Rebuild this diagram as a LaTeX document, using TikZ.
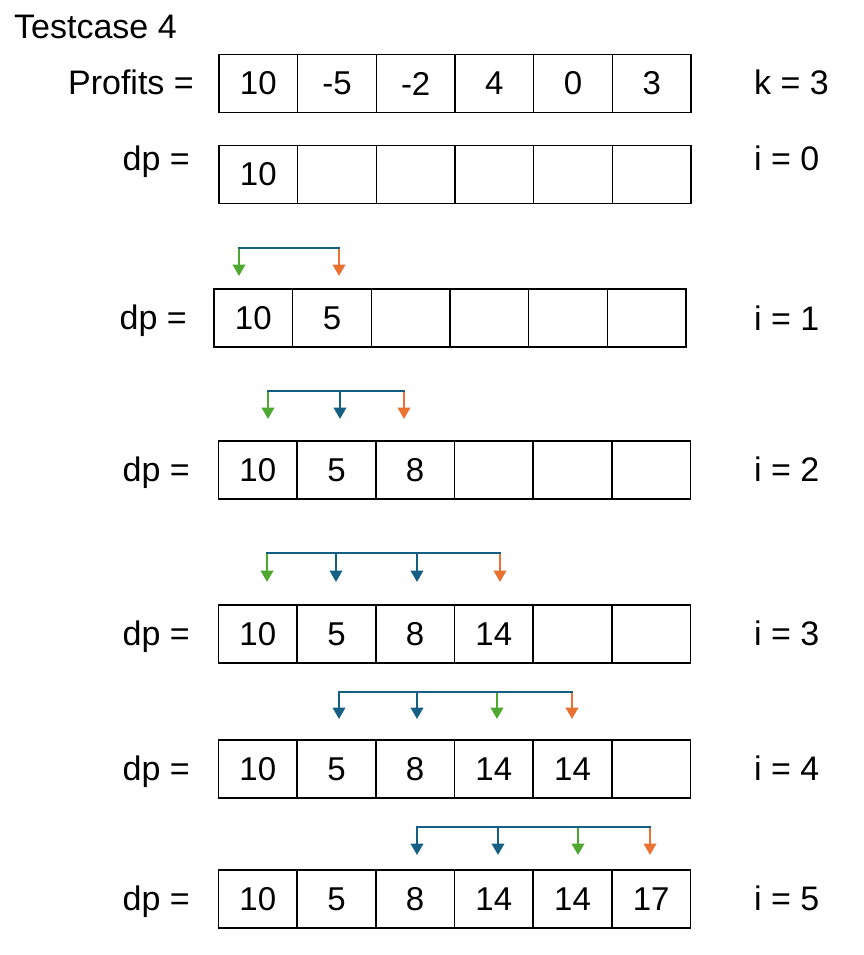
\documentclass[tikz,border=0pt]{standalone}
\usepackage{fontspec}
\setmainfont{Liberation Sans}
\usetikzlibrary{arrows.meta}
\definecolor{ablue}{HTML}{156082}
\definecolor{aorange}{HTML}{E97132}
\definecolor{agreen}{HTML}{4EA72E}
\newcommand\cellrow[4]{%
  \foreach \v [count=\i from 0] in {#4} {
    \node[cellbox] (#1c\i) at ({#2+39.33+\i*78.67},#3) {\v};
  }%
}
\newcommand\arrowrow[4]{%
  \foreach \x/\c [count=\j] in {#4} {
    \coordinate (#1s\j) at (\x,#2);
    \coordinate (#1t\j) at (\x,#3);
    \draw[stem,\c] (#1s\j) -- (#1t\j);
  }%
}
\begin{document}
\begin{tikzpicture}[x=1pt,y=-1pt,
  cellbox/.style={draw=black, line width=1.5pt, minimum width=78.67pt, minimum height=58pt, inner sep=0pt, font=\fontsize{33}{35}\selectfont},
  lbl/.style={inner sep=0pt, font=\fontsize{34}{36}\selectfont},
  stem/.style={line width=2.4pt, -{Triangle[width=12.5pt,length=11.5pt]}},
  bar/.style={line width=2.8pt, ablue, line cap=rect}]
\useasboundingbox (0,0) rectangle (864,955);

% labels
\node[lbl, anchor=base west] (title) at (14,39) {Testcase 4};
\node[lbl, anchor=base east] (lp) at (194,95) {Profits =};
\node[lbl, anchor=base east] (l0) at (190,170) {dp =};
\node[lbl, anchor=base east] (l1) at (187,329) {dp =};
\node[lbl, anchor=base east] (l2) at (190,481) {dp =};
\node[lbl, anchor=base east] (l3) at (190,645) {dp =};
\node[lbl, anchor=base east] (l4) at (190,780) {dp =};
\node[lbl, anchor=base east] (l5) at (190,910) {dp =};

\node[lbl, anchor=base west] (rk) at (754,95) {k = 3};
\node[lbl, anchor=base west] (r0) at (754,170) {i = 0};
\node[lbl, anchor=base west] (r1) at (754,330) {i = 1};
\node[lbl, anchor=base west] (r2) at (754,481) {i = 2};
\node[lbl, anchor=base west] (r3) at (754,645) {i = 3};
\node[lbl, anchor=base west] (r4) at (754,780) {i = 4};
\node[lbl, anchor=base west] (r5) at (754,910) {i = 5};

% cell rows
\cellrow{p}{219}{83.5}{10,-5,-2,4,0,3}
\cellrow{d0}{219}{174.5}{10,{},{},{},{},{}}
\cellrow{d1}{214}{318}{10,5,{},{},{},{}}
\cellrow{d2}{218.5}{470}{10,5,8,{},{},{}}
\cellrow{d3}{218.5}{634}{10,5,8,14,{},{}}
\cellrow{d4}{218.5}{769}{10,5,8,14,14,{}}
\cellrow{d5}{218.5}{899}{10,5,8,14,14,17}

% arrows
\arrowrow{a1}{248}{276}{239/agreen,339/aorange}
\draw[bar] (a1s1) -- (a1s2);
\arrowrow{a2}{391}{419}{268/agreen,340/ablue,404/aorange}
\draw[bar] (a2s1) -- (a2s3);
\arrowrow{a3}{553}{582}{267/agreen,336/ablue,417/ablue,500/aorange}
\draw[bar] (a3s1) -- (a3s4);
\arrowrow{a4}{692}{719}{339/ablue,417/ablue,497/agreen,572/aorange}
\draw[bar] (a4s1) -- (a4s4);
\arrowrow{a5}{827}{855}{417/ablue,498/ablue,578/agreen,650/aorange}
\draw[bar] (a5s1) -- (a5s4);
\end{tikzpicture}
\end{document}
